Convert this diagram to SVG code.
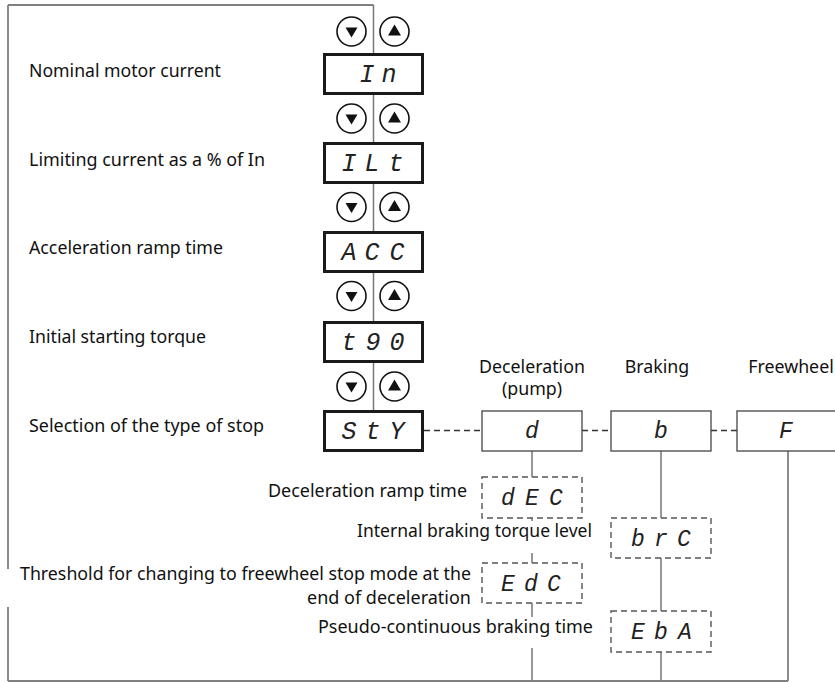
<svg xmlns="http://www.w3.org/2000/svg" width="835" height="682" viewBox="0 0 835 682">
<style>
.lbl{font-family:"Noto Sans","Liberation Sans",sans-serif;font-size:17.8px;fill:#111}
.seg{font-family:"Liberation Mono","DejaVu Sans Mono",monospace;font-style:italic;font-size:25px;fill:#222;text-anchor:middle}
.segs{font-family:"Liberation Mono","DejaVu Sans Mono",monospace;font-style:italic;font-size:23px;fill:#222;text-anchor:middle}
.main{fill:#fff;stroke:#1a1a1a;stroke-width:3}
.mode{fill:#fff;stroke:#444;stroke-width:1.3}
.dash{fill:#fff;stroke:#555;stroke-width:1.4;stroke-dasharray:6 4}
.frame{fill:none;stroke:#808080;stroke-width:1.8}
.col{fill:none;stroke:#777;stroke-width:1.5}
.dcon{fill:none;stroke:#333;stroke-width:1.3;stroke-dasharray:6 4}
.btn{fill:#fff;stroke:#111;stroke-width:1.6}
</style>
<defs>
<g id="btnDown"><circle class="btn" cx="0" cy="0" r="14.5"/><polygon points="-6,-4 6,-4 0,6" fill="#111"/></g>
<g id="btnUp"><circle class="btn" cx="0" cy="0" r="14.5"/><polygon points="-6.5,4 6.5,4 0,-7" fill="#111"/></g>
</defs>

<g id="connectors">
<path class="frame" d="M8 5 H373.5 M8 5 V569 M8 607 V681 M8 681 H788 M788 451 V681"/>
<path class="col" d="M373.5 5 V410"/>
<path class="col" d="M532 451 V477 M532 518 V521 M532 553 V563 M532 603 V617 M532 648 V681"/>
<path class="col" d="M661 451 V518 M661 558 V611 M661 652 V681"/>
<path class="dcon" d="M424 430.5 H482 M582 430.5 H611 M711 430.5 H737"/>
</g>

<g id="buttons">
<use href="#btnDown" x="351.5" y="31.5"/><use href="#btnUp" x="394.5" y="31.5"/>
<use href="#btnDown" x="351.5" y="118.5"/><use href="#btnUp" x="394.5" y="118.5"/>
<use href="#btnDown" x="351.5" y="207"/><use href="#btnUp" x="394.5" y="207"/>
<use href="#btnDown" x="351.5" y="296"/><use href="#btnUp" x="394.5" y="296"/>
<use href="#btnDown" x="351.5" y="386.5"/><use href="#btnUp" x="394.5" y="386.5"/>
</g>

<g id="node-In">
<rect class="main" x="324.5" y="54.5" width="98" height="39"/>
<text class="seg" x="367 389" y="82">In</text>
<text class="lbl" x="29" y="77" textLength="192" lengthAdjust="spacingAndGlyphs">Nominal motor current</text>
</g>
<g id="node-ILt">
<rect class="main" x="324.5" y="143.5" width="98" height="39"/>
<text class="seg" x="349 372 396" y="171">ILt</text>
<text class="lbl" x="29" y="165.5" textLength="236" lengthAdjust="spacingAndGlyphs">Limiting current as a % of In</text>
</g>
<g id="node-ACC">
<rect class="main" x="324.5" y="232.5" width="98" height="39"/>
<text class="seg" x="349 372 397" y="260">ACC</text>
<text class="lbl" x="29" y="254" textLength="194" lengthAdjust="spacingAndGlyphs">Acceleration ramp time</text>
</g>
<g id="node-t90">
<rect class="main" x="324.5" y="322.5" width="98" height="39"/>
<text class="seg" x="349 373 397" y="350">t90</text>
<text class="lbl" x="29" y="343" textLength="177" lengthAdjust="spacingAndGlyphs">Initial starting torque</text>
</g>
<g id="node-StY">
<rect class="main" x="324.5" y="411.5" width="98" height="39"/>
<text class="seg" x="349 373 397" y="439">StY</text>
<text class="lbl" x="29" y="432" textLength="235" lengthAdjust="spacingAndGlyphs">Selection of the type of stop</text>
</g>

<g id="node-d">
<rect class="mode" x="482" y="411" width="100" height="40"/>
<text class="segs" x="532" y="438">d</text>
<text class="lbl" x="532" y="373" text-anchor="middle">Deceleration</text>
<text class="lbl" x="532" y="395" text-anchor="middle">(pump)</text>
</g>
<g id="node-b">
<rect class="mode" x="611" y="411" width="100" height="40"/>
<text class="segs" x="661" y="438">b</text>
<text class="lbl" x="657" y="373" text-anchor="middle">Braking</text>
</g>
<g id="node-F">
<rect class="mode" x="737" y="411" width="104" height="40"/>
<text class="segs" x="786" y="438">F</text>
<text class="lbl" x="791" y="373" text-anchor="middle">Freewheel</text>
</g>

<g id="node-dEC">
<rect class="dash" x="482" y="477" width="100" height="41"/>
<text class="segs" x="508 532 556" y="505">dEC</text>
<text class="lbl" x="467" y="497" text-anchor="end" textLength="199" lengthAdjust="spacingAndGlyphs">Deceleration ramp time</text>
</g>
<g id="node-brC">
<rect class="dash" x="611" y="518" width="100" height="40"/>
<text class="segs" x="638 661 684" y="546">brC</text>
<text class="lbl" x="592" y="537" text-anchor="end" textLength="235" lengthAdjust="spacingAndGlyphs">Internal braking torque level</text>
</g>
<g id="node-EdC">
<rect class="dash" x="482" y="563" width="100" height="40"/>
<text class="segs" x="508 531 554" y="591">EdC</text>
<text class="lbl" x="471" y="580" text-anchor="end" textLength="451" lengthAdjust="spacingAndGlyphs">Threshold for changing to freewheel stop mode at the</text>
<text class="lbl" x="471" y="604" text-anchor="end" textLength="164" lengthAdjust="spacingAndGlyphs">end of deceleration</text>
</g>
<g id="node-EbA">
<rect class="dash" x="611" y="611" width="100" height="41"/>
<text class="segs" x="638 661 685" y="639">EbA</text>
<text class="lbl" x="593" y="633" text-anchor="end" textLength="275" lengthAdjust="spacingAndGlyphs">Pseudo-continuous braking time</text>
</g>
</svg>
